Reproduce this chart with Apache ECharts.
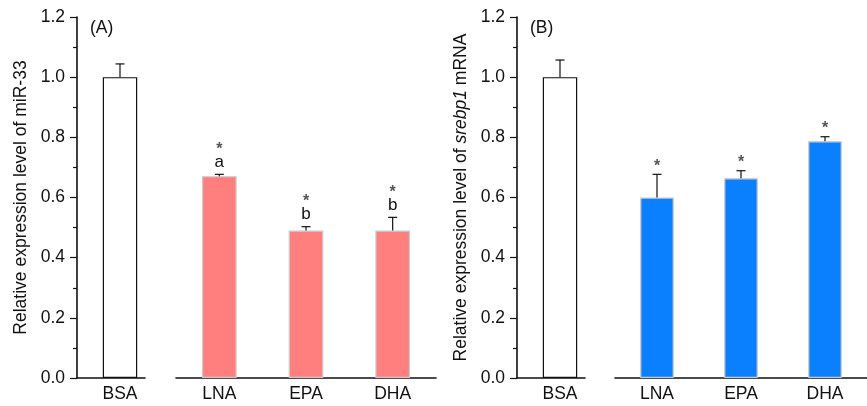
<!DOCTYPE html>
<html>
<head>
<meta charset="utf-8">
<script src="https://cdn.jsdelivr.net/npm/echarts@6/dist/echarts.min.js"></script>
<style>html,body{margin:0;padding:0;background:#fff}#c{width:867px;height:406px}</style>
</head>
<body>
<div id="c"></div>
<script>
// ---- data ----
var controlCategory = ['BSA'];
var treatCategories = ['LNA', 'EPA', 'DHA'];
var yTicks = [0.0, 0.2, 0.4, 0.6, 0.8, 1.0, 1.2];

var mir33Control = [1.0];
var mir33ControlErr = [0.044];
var mir33Treat = [0.671, 0.49, 0.49];
var mir33TreatErr = [0.006, 0.013, 0.044];
var mir33Stars = ['*', '*', '*'];
var mir33Letters = ['a', 'b', 'b'];

var srebpControl = [1.0];
var srebpControlErr = [0.057];
var srebpTreat = [0.60, 0.664, 0.787];
var srebpTreatErr = [0.077, 0.025, 0.015];
var srebpStars = ['*', '*', '*'];
var srebpLetters = ['', '', ''];

// ---- chart ----
var FONT = 'Liberation Sans, Arial, sans-serif';
var chart = echarts.init(document.getElementById('c'), null, {renderer: 'canvas'});

function errData(cats, vals, errs) {
  return cats.map(function (c, i) { return [i, vals[i], errs[i]]; });
}

function makeErr(stars, letters) {
  return function (params, api) {
    var x = api.value(0), v = api.value(1), e = api.value(2);
    var base = api.coord([x, v]);
    var top = api.coord([x, v + e]);
    var cap = 4.5;
    var st = {stroke: '#111', lineWidth: 1.2};
    var children = [
      {type: 'line', shape: {x1: base[0], y1: base[1], x2: top[0], y2: top[1]}, style: st},
      {type: 'line', shape: {x1: top[0] - cap, y1: top[1], x2: top[0] + cap, y2: top[1]}, style: st}
    ];
    var star = stars ? stars[params.dataIndex] : '';
    var letter = letters ? letters[params.dataIndex] : '';
    var y = top[1];
    if (letter) {
      children.push({type: 'text', x: top[0], y: y - 12, style: {text: letter, fill: '#111', font: '17px ' + FONT, align: 'center', verticalAlign: 'middle'}});
      y -= 17;
    }
    if (star) {
      children.push({type: 'text', x: top[0], y: y - 8, style: {text: star, fill: '#555', font: 'bold 16px ' + FONT, align: 'center', verticalAlign: 'middle'}});
    }
    return {type: 'group', children: children};
  };
}

function yAxisCfg(gridIndex, show, name) {
  return {
    type: 'value', gridIndex: gridIndex, min: 0, max: 1.2, interval: 0.2,
    show: show,
    name: name, nameLocation: 'middle', nameRotate: 90, nameGap: 47,
    nameTextStyle: {fontFamily: FONT, fontSize: 17.5, color: '#111',
      rich: {n: {fontFamily: FONT, fontSize: 17.5, color: '#111'}, i: {fontFamily: FONT, fontSize: 17.5, color: '#111', fontStyle: 'italic'}}},
    axisLine: {show: true, lineStyle: {color: '#111', width: 1.6}},
    axisTick: {show: true, length: 7, lineStyle: {color: '#111', width: 1.2}},
    minorTick: {show: true, splitNumber: 2, length: 4, lineStyle: {color: '#111', width: 1.2}},
    splitLine: {show: false},
    axisLabel: {fontFamily: FONT, fontSize: 17.5, color: '#111', margin: 12,
      formatter: function (v) { return v.toFixed(1); }}
  };
}

function hiddenY(gridIndex) {
  return {type: 'value', gridIndex: gridIndex, min: 0, max: 1.2, interval: 0.2, show: false};
}

function xCfg(gridIndex, cats, showLine, showLabel) {
  return {
    type: 'category', gridIndex: gridIndex, data: cats,
    axisLine: {show: showLine, lineStyle: {color: '#111', width: 1.6}},
    axisTick: {show: false},
    axisLabel: {show: showLabel, fontFamily: FONT, fontSize: 17.5, color: '#111', margin: 7}
  };
}

var TOP = 17, H = 361;
var grids = [
  // Panel A
  {left: 77, width: 86, top: TOP, height: H},     // 0 control
  {left: 77, width: 68, top: TOP, height: H},     // 1 control axis line
  {left: 176, width: 260, top: TOP, height: H},   // 2 treatments
  // Panel B
  {left: 517, width: 86, top: TOP, height: H},    // 3 control
  {left: 517, width: 68, top: TOP, height: H},    // 4 control axis line
  {left: 615, width: 260, top: TOP, height: H}    // 5 treatments
];

var xAxes = [
  xCfg(0, controlCategory, false, true),
  xCfg(1, controlCategory, true, false),
  xCfg(2, treatCategories, true, true),
  xCfg(3, controlCategory, false, true),
  xCfg(4, controlCategory, true, false),
  xCfg(5, treatCategories, true, true)
];

var yAxes = [
  yAxisCfg(0, true, 'Relative expression level of miR-33'),
  hiddenY(1),
  hiddenY(2),
  yAxisCfg(3, true, '{n|Relative expression level of }{i|srebp1}{n| mRNA}'),
  hiddenY(4),
  hiddenY(5)
];

function bar(ix, vals, color, border) {
  return {type: 'bar', xAxisIndex: ix, yAxisIndex: ix, data: vals, barWidth: '40%',
    itemStyle: {color: color, borderColor: border, borderWidth: 1.2}};
}
function err(ix, cats, vals, errs, stars, letters) {
  return {type: 'custom', xAxisIndex: ix, yAxisIndex: ix, data: errData(cats, vals, errs),
    renderItem: makeErr(stars, letters), z: 5, silent: true};
}

var series = [
  bar(0, mir33Control, '#ffffff', '#111'),
  err(0, controlCategory, mir33Control, mir33ControlErr, null, null),
  bar(2, mir33Treat, '#FF7F7F', '#c9c9c9'),
  err(2, treatCategories, mir33Treat, mir33TreatErr, mir33Stars, mir33Letters),
  bar(3, srebpControl, '#ffffff', '#111'),
  err(3, controlCategory, srebpControl, srebpControlErr, null, null),
  bar(5, srebpTreat, '#0A80FF', '#c9c9c9'),
  err(5, treatCategories, srebpTreat, srebpTreatErr, srebpStars, srebpLetters)
];

chart.setOption({
  animation: false,
  backgroundColor: '#fff',
  title: [
    {text: '(A)', left: 85, top: 14, textStyle: {fontFamily: FONT, fontSize: 17.5, fontWeight: 'normal', color: '#111'}},
    {text: '(B)', left: 525, top: 14, textStyle: {fontFamily: FONT, fontSize: 17.5, fontWeight: 'normal', color: '#111'}}
  ],
  grid: grids,
  xAxis: xAxes,
  yAxis: yAxes,
  series: series
});
</script>
</body>
</html>
